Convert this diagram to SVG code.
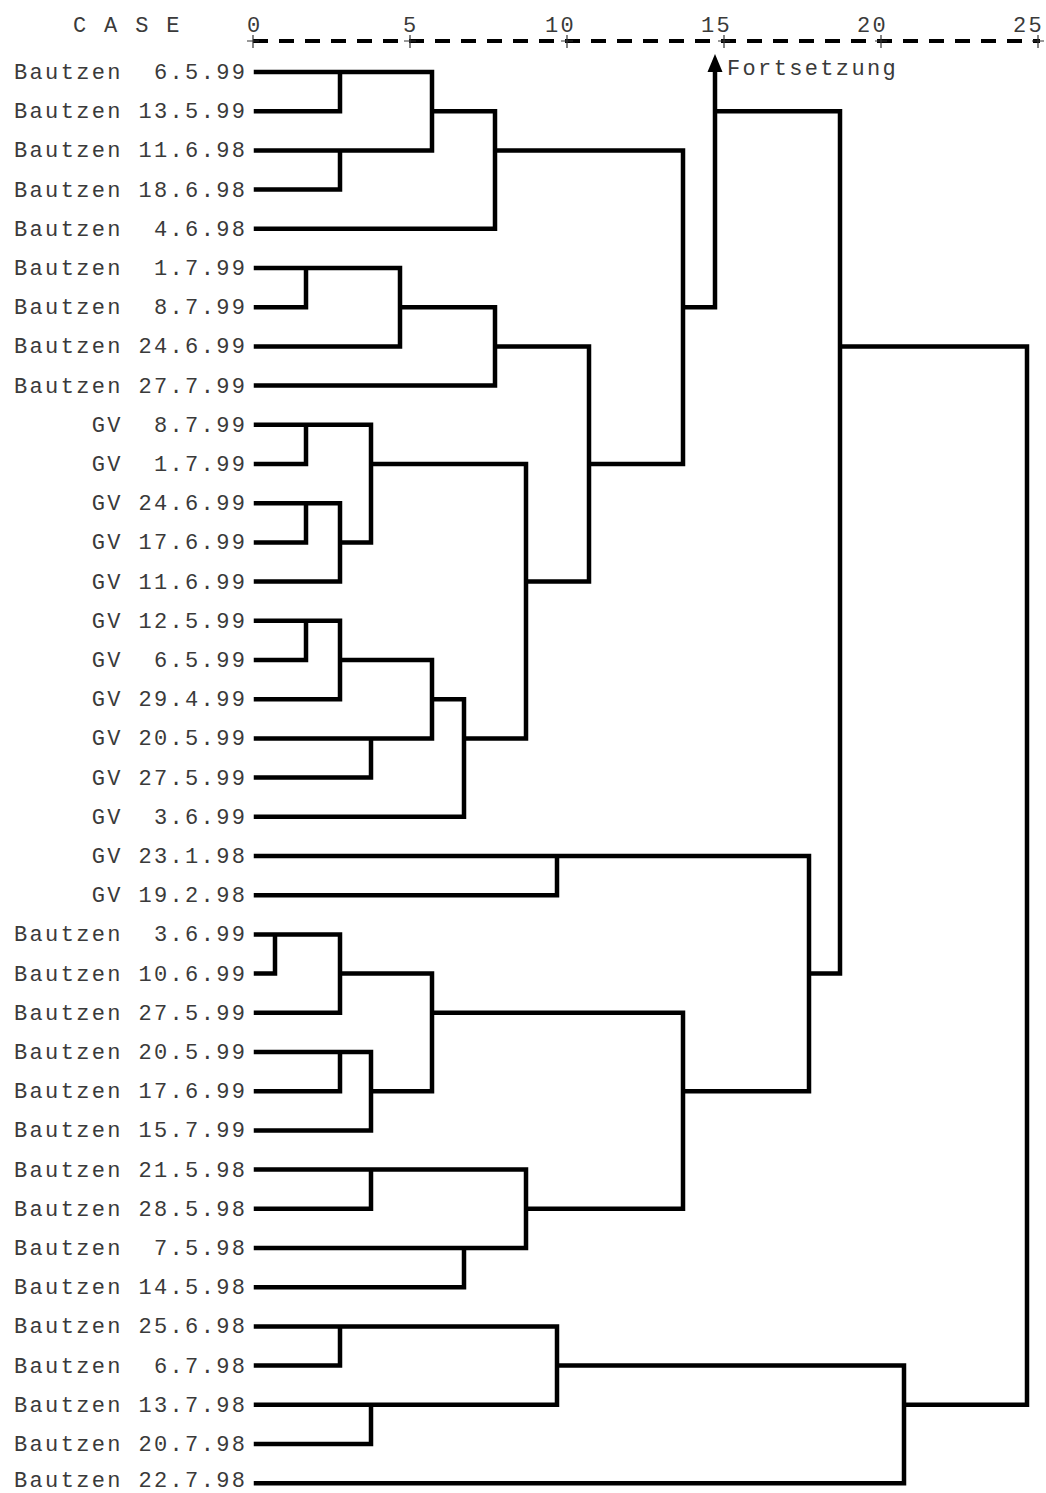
<svg xmlns="http://www.w3.org/2000/svg" width="1046" height="1493" viewBox="0 0 1046 1493">
<style>
text{font-family:"Liberation Mono","DejaVu Sans Mono",monospace;font-size:22px;fill:#3a3a3a;letter-spacing:2.35px}
.c{stroke:#000;stroke-width:4.5;fill:none;stroke-linecap:square}
.ax{stroke:#000;stroke-width:4;stroke-dasharray:15 11;fill:none}
.tk{stroke:#333;stroke-width:1.2;fill:none}
</style>
<rect width="1046" height="1493" fill="#fff"/>
<g id="axis">
<text x="73" y="32">C A S E</text>
<text x="247" y="32">0</text>
<text x="403" y="32">5</text>
<text x="545" y="32">10</text>
<text x="701" y="32">15</text>
<text x="857" y="32">20</text>
<text x="1013" y="32">25</text>
<line class="ax" x1="253" y1="41" x2="1040" y2="41"/>
<path class="tk" d="M253 35V48M247 41H259M410 35V48M404 41H416M567 35V48M561 41H573M724 35V48M718 41H730M881 35V48M875 41H887M1038 35V48M1032 41H1044"/>
</g>
<g id="labels">
<g id="n0"><text x="14" y="79" xml:space="preserve">Bautzen  6.5.99</text></g>
<g id="n1"><text x="14" y="118.2">Bautzen 13.5.99</text></g>
<g id="n2"><text x="14" y="157.4">Bautzen 11.6.98</text></g>
<g id="n3"><text x="14" y="196.6">Bautzen 18.6.98</text></g>
<g id="n4"><text x="14" y="235.8" xml:space="preserve">Bautzen  4.6.98</text></g>
<g id="n5"><text x="14" y="275" xml:space="preserve">Bautzen  1.7.99</text></g>
<g id="n6"><text x="14" y="314.2" xml:space="preserve">Bautzen  8.7.99</text></g>
<g id="n7"><text x="14" y="353.4">Bautzen 24.6.99</text></g>
<g id="n8"><text x="14" y="392.6">Bautzen 27.7.99</text></g>
<g id="n9"><text x="91.75" y="431.8" xml:space="preserve">GV  8.7.99</text></g>
<g id="n10"><text x="91.75" y="471" xml:space="preserve">GV  1.7.99</text></g>
<g id="n11"><text x="91.75" y="510.2">GV 24.6.99</text></g>
<g id="n12"><text x="91.75" y="549.4">GV 17.6.99</text></g>
<g id="n13"><text x="91.75" y="588.6">GV 11.6.99</text></g>
<g id="n14"><text x="91.75" y="627.8">GV 12.5.99</text></g>
<g id="n15"><text x="91.75" y="667" xml:space="preserve">GV  6.5.99</text></g>
<g id="n16"><text x="91.75" y="706.2">GV 29.4.99</text></g>
<g id="n17"><text x="91.75" y="745.4">GV 20.5.99</text></g>
<g id="n18"><text x="91.75" y="784.6">GV 27.5.99</text></g>
<g id="n19"><text x="91.75" y="823.8" xml:space="preserve">GV  3.6.99</text></g>
<g id="n20"><text x="91.75" y="863">GV 23.1.98</text></g>
<g id="n21"><text x="91.75" y="902.2">GV 19.2.98</text></g>
<g id="n22"><text x="14" y="941.4" xml:space="preserve">Bautzen  3.6.99</text></g>
<g id="n23"><text x="14" y="980.6">Bautzen 10.6.99</text></g>
<g id="n24"><text x="14" y="1019.8">Bautzen 27.5.99</text></g>
<g id="n25"><text x="14" y="1059">Bautzen 20.5.99</text></g>
<g id="n26"><text x="14" y="1098.2">Bautzen 17.6.99</text></g>
<g id="n27"><text x="14" y="1137.4">Bautzen 15.7.99</text></g>
<g id="n28"><text x="14" y="1176.6">Bautzen 21.5.98</text></g>
<g id="n29"><text x="14" y="1215.8">Bautzen 28.5.98</text></g>
<g id="n30"><text x="14" y="1255" xml:space="preserve">Bautzen  7.5.98</text></g>
<g id="n31"><text x="14" y="1294.2">Bautzen 14.5.98</text></g>
<g id="n32"><text x="14" y="1333.4">Bautzen 25.6.98</text></g>
<g id="n33"><text x="14" y="1372.6" xml:space="preserve">Bautzen  6.7.98</text></g>
<g id="n34"><text x="14" y="1411.8">Bautzen 13.7.98</text></g>
<g id="n35"><text x="14" y="1451">Bautzen 20.7.98</text></g>
<g id="n36"><text x="14" y="1486.5">Bautzen 22.7.98</text></g>
<g id="cont"><text x="727" y="75">Fortsetzung</text></g>
</g>
<g id="connectors">
<path class="c" d="
M256 72H432 M256 111.2H340 M256 150.4H432 M495 150.4H683 M256 189.6H340 M256 228.8H495
M340 72V111.2 M340 150.4V189.6 M432 72V150.4 M432 111.2H495 M495 111.2V228.8
M256 268H400 M256 307.2H306 M306 268V307.2 M400 268V346.4 M400 307.2H495 M256 346.4H400 M256 385.6H495 M495 307.2V385.6 M495 346.4H589
M256 424.8H371 M256 464H306 M306 424.8V464 M256 503.2H340 M256 542.4H306 M306 503.2V542.4 M256 581.6H340 M340 503.2V581.6 M340 542.4H371 M371 424.8V542.4 M371 464H526
M256 620.8H340 M256 660H306 M306 620.8V660 M256 699.2H340 M340 620.8V699.2 M340 660H432 M256 738.4H432 M256 777.6H371 M371 738.4V777.6 M432 660V738.4 M432 699.2H464 M256 816.8H464 M464 699.2V816.8 M464 738.4H526
M526 464V738.4 M526 581.6H589 M589 346.4V581.6 M589 464H683 M683 150.4V464 M683 307.2H715 M715 70V307.2 M715 111.2H840 M840 111.2V973.6 M840 346.4H1027
M256 856H809 M256 895.2H557 M557 856V895.2
M256 934.4H340 M256 973.6H275 M275 934.4V973.6 M256 1012.8H340 M340 934.4V1012.8 M340 973.6H432
M256 1052H371 M256 1091.2H340 M340 1052V1091.2 M256 1130.4H371 M371 1052V1130.4 M371 1091.2H432 M432 973.6V1091.2 M432 1012.8H683
M256 1169.6H526 M256 1208.8H371 M371 1169.6V1208.8 M256 1248H526 M256 1287.2H464 M464 1248V1287.2 M526 1169.6V1248 M526 1208.8H683 M683 1012.8V1208.8 M683 1091.2H809 M809 856V1091.2 M809 973.6H840
M256 1326.4H557 M256 1365.6H340 M340 1326.4V1365.6 M256 1404.8H557 M256 1444H371 M371 1404.8V1444 M557 1326.4V1404.8 M557 1365.6H904 M256 1483.2H904 M904 1365.6V1483.2 M904 1404.8H1027 M1027 346.4V1404.8"/>
<polygon points="715,54 707.5,72 722.5,72" fill="#000"/>
</g>
</svg>
